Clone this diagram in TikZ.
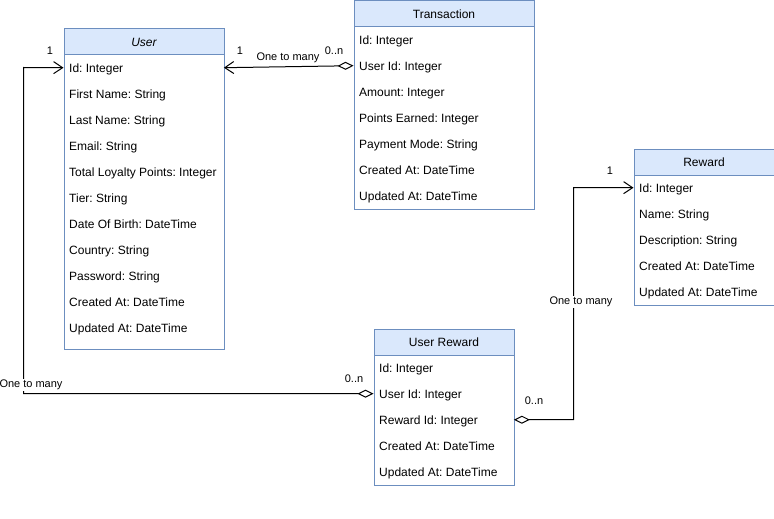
\documentclass[tikz,border=0pt]{standalone}
\usepackage{fontspec}
\setmainfont{Liberation Sans}
\usetikzlibrary{arrows.meta}
\definecolor{hdrfill}{HTML}{DAE8FC}
\definecolor{hdrline}{HTML}{6C8EBF}
\frenchspacing
\hyphenpenalty=10000
\begin{document}
\begin{tikzpicture}[x=1pt,y=-1pt,
  hdr/.style={draw=hdrline,fill=hdrfill,line width=1pt,anchor=north west,minimum height=26pt,inner sep=0pt,font=\fontsize{12}{14}\selectfont},
  bodybox/.style={draw=hdrline,line width=1pt,anchor=north west,inner sep=0pt},
  row/.style={anchor=north west,minimum height=26pt,inner ysep=0pt,inner xsep=5.5pt,align=flush left,text height=10.5pt,text depth=1.5pt,font=\fontsize{12}{14}\selectfont},
  lbl/.style={font=\fontsize{11}{13}\selectfont,inner sep=1pt},
  conn/.style={line width=1pt,{Diamond[open,length=16pt,width=8pt]}-{Straight Barb[length=9pt,width=12pt]}}
]
\useasboundingbox[fill=white] (0,0) rectangle (774,519);

% User
\node[bodybox,minimum width=160pt,minimum height=320pt] (userbody) at (63.5,28.5) {};
\node[hdr,minimum width=160pt,font=\fontsize{12}{14}\selectfont\itshape] (user) at (63.5,28.5) {User};
\foreach \t [count=\i] in {Id: Integer,First Name: String,Last Name: String,Email: String,Total Loyalty Points: Integer,Tier: String,Date Of Birth: DateTime,Country: String,Password: String,Created At: DateTime,Updated At: DateTime}
  \node[row,text width=149pt] (u\i) at (63.5,28.5+26*\i) {\t};

% Transaction
\node[bodybox,minimum width=180pt,minimum height=208pt] (trbody) at (353.5,0.5) {};
\node[hdr,minimum width=180pt] (tr) at (353.5,0.5) {Transaction};
\foreach \t [count=\i] in {Id: Integer,User Id: Integer,Amount: Integer,Points Earned: Integer,Payment Mode: String,Created At: DateTime,Updated At: DateTime}
  \node[row,text width=169pt] (tr\i) at (353.5,0.5+26*\i) {\t};

% Reward
\node[bodybox,minimum width=140pt,minimum height=156pt] (rwbody) at (633.5,148.5) {};
\node[hdr,minimum width=140pt] (rw) at (633.5,148.5) {Reward};
\foreach \t [count=\i] in {Id: Integer,Name: String,Description: String,Created At: DateTime,Updated At: DateTime}
  \node[row,text width=129pt] (rw\i) at (633.5,148.5+26*\i) {\t};

% User Reward
\node[bodybox,minimum width=140pt,minimum height=156pt] (urbody) at (373.5,328.5) {};
\node[hdr,minimum width=140pt] (ur) at (373.5,328.5) {User Reward};
\foreach \t [count=\i] in {Id: Integer,User Id: Integer,Reward Id: Integer,Created At: DateTime,Updated At: DateTime}
  \node[row,text width=129pt] (ur\i) at (373.5,328.5+26*\i) {\t};

% Connectors
\coordinate (c1) at (23.5,67.5);
\coordinate (c2) at (573.5,187.5);
\draw[conn] (tr2.west) -- (u1.east);
\draw[conn] (ur2.west) -| (c1) -- (u1.west);
\draw[conn] (ur3.east) -| (c2) -- (rw1.west);

% Labels
\node[lbl] (l1a) at (240,51) {1};
\node[lbl] (l1b) at (334,51) {0..n};
\node[lbl,fill=white] (l1c) at (288,58) {One to many};
\node[lbl] (l2a) at (50,51) {1};
\node[lbl] (l2b) at (354,379) {0..n};
\node[lbl,fill=white] (l2c) at (31,385) {One to many};
\node[lbl] (l3a) at (610,171) {1};
\node[lbl] (l3b) at (534,401) {0..n};
\node[lbl,fill=white] (l3c) at (581,302) {One to many};
\end{tikzpicture}
\end{document}
